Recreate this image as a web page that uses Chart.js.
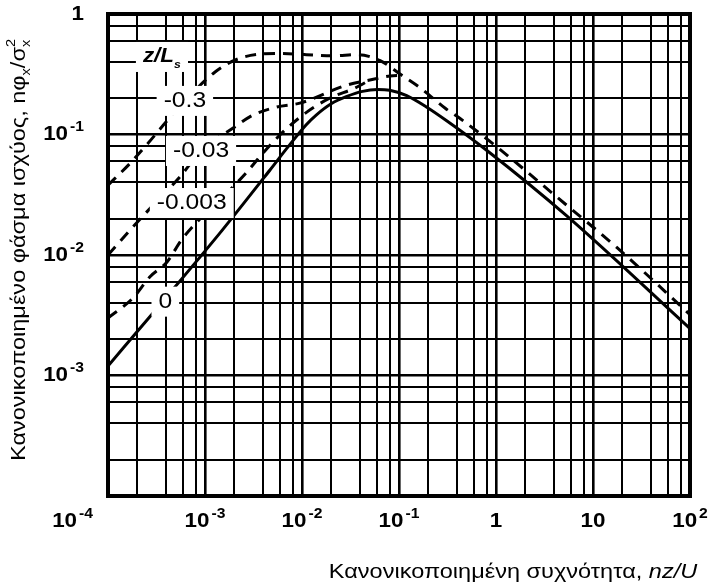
<!DOCTYPE html>
<html><head><meta charset="utf-8">
<script src="https://cdn.jsdelivr.net/npm/chart.js@4/dist/chart.umd.min.js"></script>
<style>html,body{margin:0;padding:0;background:#fff;}canvas{display:block;}</style>
</head><body>
<canvas id="c" width="716" height="588"></canvas>
<script>
// ---------- data ----------
const neutralX = [1e-4, 3e-4, 1.5e-3, 4.7e-3, 7e-3, 1.1e-2, 1.4e-2, 2e-2, 2.9e-2, 4.2e-2, 6e-2, 8e-2, 0.12, 0.19, 0.31, 0.8, 5.4, 100];
const neutralY = [1.2e-3, 3.4e-3, 1.6e-2, 5.1e-2, 0.077, 0.12, 0.145, 0.18, 0.207, 0.228, 0.236, 0.233, 0.21, 0.17, 0.13, 0.074, 0.021, 2.45e-3];

const m03X = [1e-4, 1.7e-4, 2.6e-4, 4e-4, 6.2e-4, 1.27e-3, 2.3e-3, 5.9e-3, 2.1e-2, 3.7e-2, 6.4e-2, 0.107, 0.164, 0.3, 0.43, 1.0, 4.3, 17.7, 100];
const m03Y = [0.038, 0.058, 0.085, 0.128, 0.19, 0.33, 0.43, 0.47, 0.45, 0.46, 0.41, 0.31, 0.245, 0.165, 0.135, 0.08, 0.03, 0.0115, 3.2e-3];

const m003X = [1e-4, 1.69e-4, 2.4e-4, 5.5e-4, 9.1e-4, 1.95e-3, 3.13e-3, 5.5e-3, 9.5e-3, 2.9e-2, 5e-2, 8.1e-2, 0.107];
const m003Y = [0.01, 0.0161, 0.0219, 0.0444, 0.073, 0.113, 0.145, 0.169, 0.182, 0.257, 0.283, 0.306, 0.31];

const m0003X = [1e-4, 1.81e-4, 2.71e-4, 4.06e-4, 5.9e-4, 1.81e-3, 2.71e-3, 3.96e-3, 6.7e-3, 1.13e-2, 1.95e-2, 3.52e-2, 5e-2];
const m0003Y = [3.0e-3, 4.4e-3, 6.6e-3, 8.75e-3, 1.38e-2, 3.46e-2, 4.89e-2, 7.02e-2, 0.109, 0.154, 0.201, 0.243, 0.283];

const xTickValues = [1e-4, 1e-3, 1e-2, 1e-1, 1, 10, 100];
const xTickBase   = ['10', '10', '10', '10', '1', '10', '10'];
const xTickExp    = ['-4', '-3', '-2', '-1', '', '', '2'];
const yTickValues = [1, 0.1, 0.01, 0.001];
const yTickBase   = ['1', '10', '10', '10'];
const yTickExp    = ['', '-1', '-2', '-3'];
const gridMultipliers = [1, 2, 4, 6, 8];

const curveLabels = [
  {text: 'z/L', sub: 's', x: 3.6e-4, y: 0.44},
  {text: '-0.3',   x: 6.2e-4, y: 0.19},
  {text: '-0.03',  x: 9.1e-4, y: 0.073},
  {text: '-0.003', x: 7.3e-4, y: 0.027},
  {text: '0',      x: 3.9e-4, y: 4.1e-3}
];

// ---------- helpers ----------
const FONT = '"Liberation Sans", Arial, Helvetica, sans-serif';
const SX = 1.12; // horizontal stretch of the scanned lettering
const zip = (xs, ys) => xs.map((x, i) => ({x: x, y: ys[i]}));
function gridTicks(minExp, maxExp) {
  const out = [];
  for (let e = minExp; e < maxExp; e++) gridMultipliers.forEach(m => out.push({value: m * Math.pow(10, e)}));
  out.push({value: Math.pow(10, maxExp)});
  return out;
}
const isDecade = v => Math.abs(Math.log10(v) - Math.round(Math.log10(v))) < 1e-9;

function txt(ctx, t, x, y, font) {
  ctx.font = font;
  ctx.save();
  ctx.translate(x, y);
  ctx.scale(SX, 1);
  ctx.fillText(t, 0, 0);
  ctx.restore();
}
function w(ctx, t, font) { ctx.font = font; return ctx.measureText(t).width * SX; }

function drawPow(ctx, base, exp, x, y, align) {
  const fb = 'bold 20px ' + FONT, fe = 'bold 14px ' + FONT;
  const wb = w(ctx, base, fb);
  const we = exp ? w(ctx, exp, fe) + 2 : 0;
  const total = wb + we;
  const sx = align === 'right' ? x - total : x - total / 2;
  ctx.textBaseline = 'middle';
  ctx.textAlign = 'left';
  txt(ctx, base, sx, y, fb);
  if (exp) txt(ctx, exp, sx + wb + 2, y - 7, fe);
}

function drawParts(ctx, parts, x, y, align) {
  let total = 0;
  parts.forEach(p => {
    p.f = (p.style || '') + ' ' + p.size + 'px ' + FONT;
    p.w = w(ctx, p.t, p.f);
    if (!p.stack) total += p.w;
  });
  let cx = align === 'center' ? x - total / 2 : x;
  ctx.textBaseline = 'alphabetic';
  ctx.textAlign = 'left';
  parts.forEach(p => {
    txt(ctx, p.t, cx, y + (p.dy || 0), p.f);
    if (!p.stack) cx += p.w;
  });
}

const decor = {
  id: 'decor',
  afterDatasetsDraw(chart) {
    const ctx = chart.ctx, xs = chart.scales.x, ys = chart.scales.y;
    ctx.save();
    ctx.textBaseline = 'middle';
    ctx.textAlign = 'left';
    curveLabels.forEach(l => {
      const px = xs.getPixelForValue(l.x), py = ys.getPixelForValue(l.y);
      const font = l.sub ? 'bold italic 20px ' + FONT : '22px ' + FONT;
      const tw = w(ctx, l.text, font) + (l.sub ? 7 : 0);
      ctx.fillStyle = '#fff';
      ctx.fillRect(px - tw / 2 - 7, py - 15, tw + 14, 30);
      ctx.fillStyle = '#000';
      txt(ctx, l.text, px - tw / 2, py, font);
      if (l.sub) txt(ctx, l.sub, px + tw / 2 - 7, py + 8, 'bold italic 11px ' + FONT);
    });
    ctx.restore();
  },
  afterDraw(chart) {
    const ctx = chart.ctx, a = chart.chartArea, xs = chart.scales.x, ys = chart.scales.y;
    ctx.save();
    ctx.strokeStyle = '#000';
    ctx.lineWidth = 4;
    ctx.strokeRect(a.left, a.top, a.right - a.left, a.bottom - a.top);
    ctx.fillStyle = '#000';
    xTickValues.forEach((v, i) => {
      const px = xs.getPixelForValue(v);
      if (i === 0) drawPow(ctx, xTickBase[i], xTickExp[i], px - 15, a.bottom + 25, 'right');
      else drawPow(ctx, xTickBase[i], xTickExp[i], px, a.bottom + 25, 'center');
    });
    yTickValues.forEach((v, i) => {
      drawPow(ctx, yTickBase[i], yTickExp[i], 84, ys.getPixelForValue(v), 'right');
    });
    // x title
    drawParts(ctx, [
      {t: 'Κανονικοποιημένη συχνότητα, ', size: 21},
      {t: 'nz/U', size: 21, style: 'italic'}
    ], 513, 578, 'center');
    // y title
    ctx.translate(25, 250);
    ctx.rotate(-Math.PI / 2);
    drawParts(ctx, [
      {t: 'Κανονικοποιημένο φάσμα ισχύος, nφ', size: 21},
      {t: 'x', size: 13, dy: 5},
      {t: '/σ', size: 21},
      {t: 'x', size: 13, dy: 5, stack: true},
      {t: '2', size: 13, dy: -10}
    ], 0, 0, 'center');
    ctx.restore();
  }
};

const gridStyle = {
  color: '#000',
  lineWidth: c => (c.tick && isDecade(c.tick.value)) ? 2.6 : 2,
  drawTicks: false
};

new Chart(document.getElementById('c'), {
  type: 'line',
  data: {
    datasets: [
      {label: '0', data: zip(neutralX, neutralY), borderColor: '#000', borderWidth: 3, pointRadius: 0, cubicInterpolationMode: 'monotone', fill: false},
      {label: '-0.3', data: zip(m03X, m03Y), borderColor: '#000', borderWidth: 3, borderDash: [11, 8], pointRadius: 0, cubicInterpolationMode: 'monotone', fill: false},
      {label: '-0.03', data: zip(m003X, m003Y), borderColor: '#000', borderWidth: 3, borderDash: [11, 8], pointRadius: 0, cubicInterpolationMode: 'monotone', fill: false},
      {label: '-0.003', data: zip(m0003X, m0003Y), borderColor: '#000', borderWidth: 3, borderDash: [11, 8], pointRadius: 0, cubicInterpolationMode: 'monotone', fill: false}
    ]
  },
  options: {
    responsive: false,
    animation: false,
    devicePixelRatio: 1,
    layout: {padding: {left: 108, top: 14, right: 26, bottom: 92}},
    plugins: {legend: {display: false}, tooltip: {enabled: false}},
    scales: {
      x: {
        type: 'logarithmic', min: 1e-4, max: 100,
        afterBuildTicks: s => { s.ticks = gridTicks(-4, 2); },
        afterFit: s => { s.height = 0; },
        ticks: {display: false},
        grid: gridStyle,
        border: {display: false}
      },
      y: {
        type: 'logarithmic', min: 1e-4, max: 1,
        afterBuildTicks: s => { s.ticks = gridTicks(-4, 0); },
        afterFit: s => { s.width = 0; },
        ticks: {display: false},
        grid: gridStyle,
        border: {display: false}
      }
    }
  },
  plugins: [decor]
});
</script>
</body></html>
